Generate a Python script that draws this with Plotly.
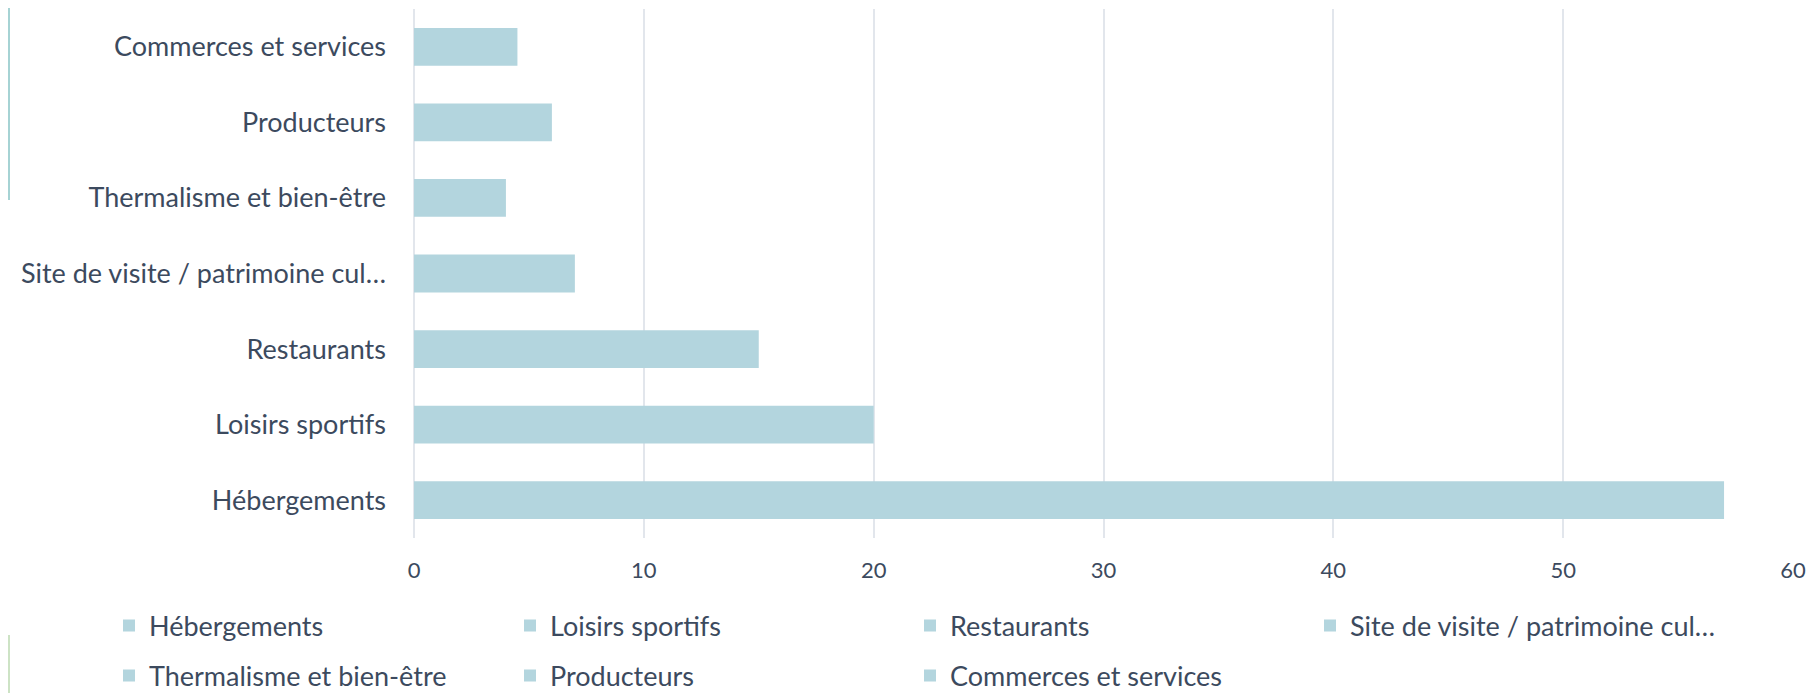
import plotly.graph_objects as go

categories = ["Hébergements", "Loisirs sportifs", "Restaurants",
              "Site de visite / patrimoine cul…", "Thermalisme et bien-être",
              "Producteurs", "Commerces et services"]
values = [57, 20, 15, 7, 4, 6, 4.5]
x_ticks = [0, 10, 20, 30, 40, 50, 60]

BAR = "#b3d5de"
TXT = "#3c4a5e"
GRID = "#e2e6ec"
FONT = "Lato, Open Sans, sans-serif"

# the page body adds an 8px margin, so the figure is 8px smaller
W, H = 1806, 685
ML, MR, MT, MB = 406, 21, 1, 155
PW, PH = W - ML - MR, H - MT - MB

# legend slot layout (figure pixels): 4 columns, 2 rows
col_x = [101, 502, 902, 1302]
row_y = [618, 668]

fig = go.Figure()
legends = {}
for i, (c, v) in enumerate(zip(categories, values)):
    key = "legend" if i == 0 else f"legend{i + 1}"
    fig.add_trace(go.Bar(
        x=[v], y=[c], orientation="h", name=c,
        marker=dict(color=BAR, line=dict(width=0)),
        width=0.5,
        legend=key,
        hoverinfo="x+y",
    ))
    legends[key] = dict(
        orientation="h", xref="container", yref="container",
        xanchor="left", yanchor="middle",
        x=col_x[i % 4] / W, y=1 - row_y[i // 4] / H,
        font=dict(family=FONT, size=27, color=TXT),
        itemwidth=30, bgcolor="rgba(0,0,0,0)",
    )


def px_x(fx):
    return (fx - ML) / PW


def px_y(fy):
    return (H - MB - fy) / PH


fig.update_layout(
    width=W, height=H,
    margin=dict(l=ML, r=MR, t=MT, b=MB, autoexpand=False),
    paper_bgcolor="white", plot_bgcolor="white",
    barmode="overlay",
    showlegend=True,
    font=dict(family=FONT, color=TXT),
    xaxis=dict(
        range=[0, 60], tickvals=x_ticks, ticktext=[str(t) for t in x_ticks],
        showgrid=True, gridcolor=GRID, gridwidth=2,
        zeroline=True, zerolinecolor=GRID, zerolinewidth=2,
        showline=False, ticks="", ticklabelstandoff=17,
        tickfont=dict(family=FONT, size=22, color=TXT),
        fixedrange=True,
    ),
    yaxis=dict(
        categoryorder="array", categoryarray=categories,
        showgrid=False, showline=False, ticks="",
        ticklabelstandoff=27,
        tickfont=dict(family=FONT, size=27, color=TXT),
        fixedrange=True,
    ),
    shapes=[
        dict(type="line", xref="paper", yref="paper",
             x0=px_x(1), x1=px_x(1), y0=px_y(0), y1=px_y(192),
             line=dict(color="#a6d3d4", width=2)),
        dict(type="line", xref="paper", yref="paper",
             x0=px_x(1), x1=px_x(1), y0=px_y(627), y1=px_y(H),
             line=dict(color="#cde3c5", width=2)),
    ],
    **legends,
)

fig.write_html("out.html")
